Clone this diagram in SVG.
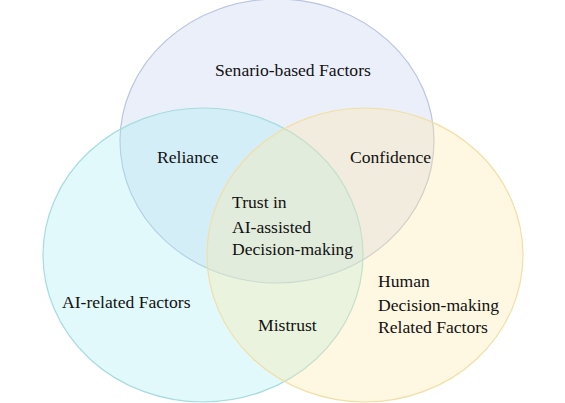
<svg xmlns="http://www.w3.org/2000/svg" width="565" height="403" viewBox="0 0 565 403">
<style>
text{font-family:"Liberation Serif","Times New Roman",serif;font-size:17.6px;fill:#111111}
.set{stroke-width:1.2}
#scenario ellipse{fill:#cdd7f3;fill-opacity:.4;stroke:#b9c4df}
#ai ellipse{fill:#a8eef2;fill-opacity:.35;stroke:#a6dcdf}
#human ellipse{fill:#fde9a8;fill-opacity:.35;stroke:#f1dfa6}
</style>
<rect width="565" height="403" fill="#ffffff"/>
<g id="scenario">
<ellipse class="set" cx="277" cy="141" rx="157" ry="142"/>
<text x="215" y="76">Senario-based Factors</text>
</g>
<g id="ai">
<ellipse class="set" cx="203" cy="255" rx="160" ry="147"/>
<text x="62" y="308">AI-related Factors</text>
</g>
<g id="human">
<ellipse class="set" cx="365" cy="255" rx="158" ry="147"/>
<text x="378" y="287">Human</text>
<text x="378" y="311">Decision-making</text>
<text x="378" y="333">Related Factors</text>
</g>
<g id="reliance"><text x="157" y="163">Reliance</text></g>
<g id="confidence"><text x="350" y="163">Confidence</text></g>
<g id="mistrust"><text x="258" y="331">Mistrust</text></g>
<g id="trust">
<text x="232" y="208">Trust in</text>
<text x="232" y="233">AI-assisted</text>
<text x="232" y="255">Decision-making</text>
</g>
</svg>
